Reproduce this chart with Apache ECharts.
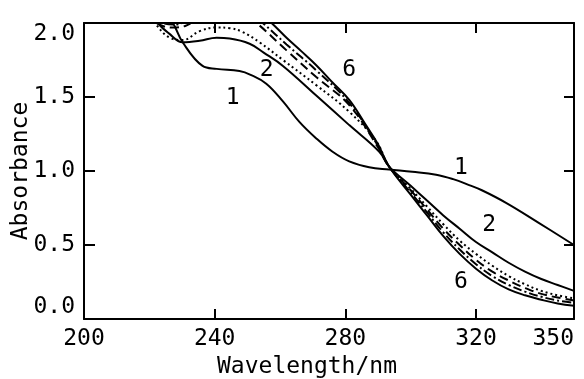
<!DOCTYPE html>
<html lang="en" style="height: 100%">
<head>
<meta charset="utf-8">
<title>Absorbance spectra</title>
</head>
<body style="height: 100%; margin: 0; background: #fff">
<div id="container" style="width: 584px; height: 379px"></div>
<script type="text/javascript" src="https://cdn.jsdelivr.net/npm/echarts/dist/echarts.min.js"></script>
<script type="text/javascript">
var xLabelValues = [200, 240, 280, 320, 350];
var xTickValues = [240, 280, 320];

// [wavelength, absorbance]
var curve1 = [[222, 2.15], [227.2, 2.0], [230.2, 1.87], [236.3, 1.71], [240.6, 1.69], [247.6, 1.675], [251, 1.65], [255.8, 1.59], [260.9, 1.47], [266, 1.33], [271.1, 1.22], [276.1, 1.13], [281.2, 1.065], [287.3, 1.025], [293.4, 1.01], [300.5, 0.995], [307.8, 0.975], [313, 0.945], [317.9, 0.905], [321.8, 0.87], [329.2, 0.785], [339.2, 0.65], [350, 0.5]];
var curve2 = [[218, 2.15], [222.6, 2.0], [226, 1.93], [230.2, 1.87], [235.4, 1.88], [240.6, 1.9], [244.6, 1.895], [250.7, 1.86], [255, 1.8], [260.9, 1.71], [271.1, 1.51], [281.2, 1.31], [290.4, 1.13], [293.4, 1.03], [300, 0.9], [305, 0.8], [310, 0.7], [315, 0.61], [320, 0.52], [325, 0.45], [330, 0.38], [335, 0.32], [340, 0.27], [345, 0.23], [350, 0.19]];
var curve3 = [[217, 2.15], [221.7, 2.0], [226.3, 1.9], [230.2, 1.885], [235.4, 1.945], [240.6, 1.97], [244.6, 1.965], [248.5, 1.94], [253.7, 1.87], [260.9, 1.75], [271.1, 1.58], [281.2, 1.4], [289.5, 1.2], [293.4, 1.03], [300, 0.88], [305, 0.76], [310, 0.64], [315, 0.53], [320, 0.44], [325, 0.36], [330, 0.29], [335, 0.235], [340, 0.19], [345, 0.16], [350, 0.14]];
var curve4 = [[219, 2.06], [223, 1.99], [227, 1.97], [231, 1.98], [235, 2.03], [242, 2.09], [248, 2.07], [252.8, 2.0], [262, 1.815], [271.1, 1.635], [281.2, 1.445], [290, 1.16], [293.4, 1.03], [300, 0.87], [305, 0.74], [310, 0.61], [315, 0.5], [320, 0.4], [325, 0.32], [330, 0.26], [335, 0.21], [340, 0.17], [345, 0.145], [350, 0.125]];
var curve5 = [[220, 2.05], [224, 2.0], [228, 1.99], [232, 2.02], [240, 2.1], [249, 2.1], [254.7, 2.0], [262, 1.855], [271.1, 1.68], [281.2, 1.46], [290, 1.17], [293.4, 1.03], [300, 0.855], [305, 0.72], [310, 0.585], [315, 0.47], [320, 0.37], [325, 0.29], [330, 0.23], [335, 0.185], [340, 0.15], [345, 0.125], [350, 0.11]];
var curve6 = [[250, 2.14], [257.4, 2.0], [262, 1.9], [266.5, 1.81], [271.1, 1.715], [276, 1.6], [281.2, 1.48], [286, 1.32], [290, 1.18], [293.4, 1.03], [300, 0.84], [305, 0.7], [310, 0.56], [315, 0.44], [320, 0.34], [325, 0.26], [330, 0.2], [335, 0.16], [340, 0.13], [345, 0.105], [350, 0.09]];

// curve number annotations: [wavelength, absorbance, text]
var curveLabels = [[245.5, 1.49, '1'], [255.9, 1.68, '2'], [281.2, 1.68, '6'], [315.4, 1.02, '1'], [324, 0.635, '2'], [315.4, 0.25, '6']];

var FONT = '"DejaVu Sans Mono", monospace';
var INK = '#000';

var dom = document.getElementById('container');
var myChart = echarts.init(dom, null, { renderer: 'canvas' });

function lineSeries(data, type) {
    return {
        type: 'line',
        data: data,
        smooth: 0.4,
        symbol: 'none',
        clip: true,
        lineStyle: { color: INK, width: 2, type: type },
        z: 3
    };
}

var series = [
    lineSeries(curve1, 'solid'),
    lineSeries(curve2, 'solid'),
    lineSeries(curve3, [2, 3]),
    lineSeries(curve4, [9, 5]),
    lineSeries(curve5, [9, 3, 2, 3]),
    lineSeries(curve6, 'solid')
];

series.push({
    type: 'scatter',
    data: curveLabels.map(function (d) { return { value: [d[0], d[1]], name: d[2] }; }),
    symbolSize: 1,
    itemStyle: { opacity: 0 },
    silent: true,
    label: {
        show: true,
        position: 'inside',
        formatter: function (p) { return p.name; },
        fontFamily: FONT,
        fontSize: 23,
        color: INK,
        opacity: 1
    },
    z: 5
});

var axisLine = { show: true, onZero: false, lineStyle: { color: INK, width: 2 } };

var option = {
    animation: false,
    backgroundColor: '#fff',
    grid: { left: 84, right: 10, top: 23, bottom: 60, containLabel: false, outerBoundsMode: 'none' },
    xAxis: [{
        type: 'value',
        min: 200,
        max: 350,
        position: 'bottom',
        name: 'Wavelength/nm',
        nameLocation: 'middle',
        nameGap: 37,
        nameMoveOverlap: false,
        nameTextStyle: { fontFamily: FONT, fontSize: 23, color: INK, padding: [0, 44, 0, 0] },
        axisLine: axisLine,
        axisTick: { show: true, inside: true, length: 10, customValues: xTickValues, lineStyle: { color: INK, width: 2 } },
        axisLabel: { customValues: xLabelValues, margin: 9, alignMaxLabel: 'right', fontFamily: FONT, fontSize: 23, color: INK },
        splitLine: { show: false }
    }, {
        type: 'value',
        min: 200,
        max: 350,
        position: 'top',
        axisLine: axisLine,
        axisTick: { show: true, inside: true, length: 10, customValues: xTickValues, lineStyle: { color: INK, width: 2 } },
        axisLabel: { show: false },
        splitLine: { show: false }
    }],
    yAxis: [{
        type: 'value',
        min: 0,
        max: 2,
        interval: 0.5,
        position: 'left',
        name: 'Absorbance',
        nameLocation: 'middle',
        nameGap: 51,
        nameMoveOverlap: false,
        nameTextStyle: { fontFamily: FONT, fontSize: 23, color: INK },
        axisLine: axisLine,
        axisTick: { show: true, inside: true, length: 11, lineStyle: { color: INK, width: 2 } },
        axisLabel: {
            margin: 9,
            fontFamily: FONT,
            fontSize: 23,
            color: INK,
            verticalAlignMinLabel: 'bottom',
            verticalAlignMaxLabel: 'top',
            formatter: function (v) { return v.toFixed(1); }
        },
        splitLine: { show: false }
    }, {
        type: 'value',
        min: 0,
        max: 2,
        interval: 0.5,
        position: 'right',
        axisLine: axisLine,
        axisTick: { show: true, inside: true, length: 10, lineStyle: { color: INK, width: 2 } },
        axisLabel: { show: false },
        splitLine: { show: false }
    }],
    series: series
};

myChart.setOption(option);
window.addEventListener('resize', myChart.resize);
</script>
</body>
</html>
